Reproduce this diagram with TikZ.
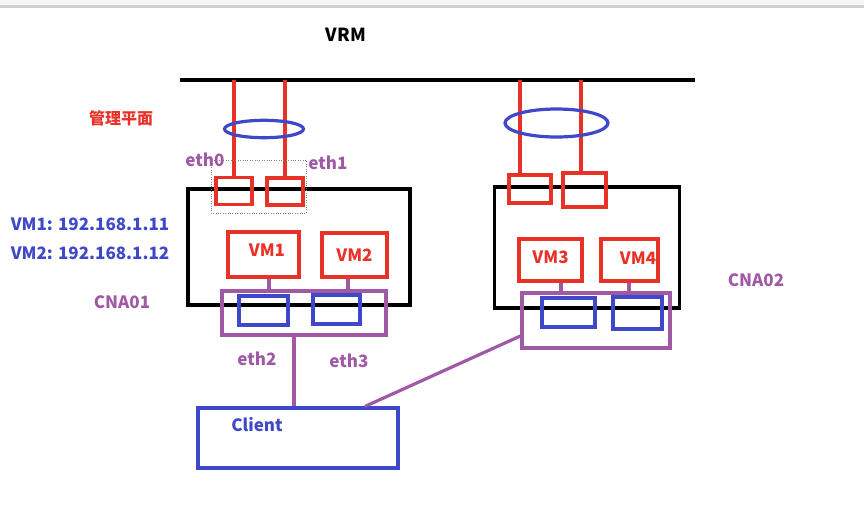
\documentclass[tikz,border=0pt]{standalone}
\usepackage{fontspec}
\setmainfont{Noto Sans CJK SC}
\definecolor{netred}{RGB}{232,50,40}
\definecolor{netblue}{RGB}{62,72,200}
\definecolor{netpurple}{RGB}{160,90,165}
\tikzset{
  hostbox/.style={draw,line width=3.8pt,inner sep=0pt},
  portbox/.style={draw=netred,line width=3.2pt,inner sep=0pt},
  nicbox/.style={draw=netblue,line width=3.2pt,inner sep=0pt},
  swbox/.style={draw=netpurple,line width=3.2pt,inner sep=0pt},
  vmlabel/.style={text=netred},
  ethlabel/.style={text=netpurple}
}
\begin{document}
\begin{tikzpicture}[x=1pt,y=-1pt,font=\fontsize{17}{20}\selectfont\bfseries]
        \useasboundingbox (0,0) rectangle (864,507);
        % screenshot strip
        \fill[gray!8](0,0) rectangle (864,5);
        \fill[gray!35](0,5) rectangle (864,8);

        \node[font=\fontsize{18}{20}\selectfont\bfseries] (vrm) at (346,35) {VRM};
        \coordinate (busL) at (180,80);
        \coordinate (busR) at (695,80);
        \draw[line width=3.5pt] (busL) -- (busR);

        % hosts
        \node[hostbox,minimum width=222,minimum height=116] (cna1) at (299,247) {};
        \node[hostbox,minimum width=185,minimum height=121] (cna2) at (587,247.5) {};

        % management ports
        \node[portbox,minimum width=36,minimum height=27] (p0) at (234,191) {};
        \node[portbox,minimum width=36,minimum height=27] (p1) at (285,191.5) {};
        \node[portbox,minimum width=42,minimum height=28] (p2) at (530,189) {};
        \node[portbox,minimum width=43,minimum height=34] (p3) at (584.5,190) {};
        \coordinate (busP2) at (520,80);
        \coordinate (busP3) at (581,80);
        \draw[netred,line width=3.2pt] (p0.north) -- (p0.north |- busL);
        \draw[netred,line width=3.2pt] (p1.north) -- (p1.north |- busL);
        \draw[netred,line width=3.2pt] (busP2) -- (busP2 |- p2.north);
        \draw[netred,line width=3.2pt] (busP3) -- (busP3 |- p3.north);
        \draw[netblue,line width=3.2pt] (264,129) ellipse [x radius=39.5,y radius=8.7];
        \draw[netblue,line width=3.2pt] (556.5,123) ellipse [x radius=51.5,y radius=14];
        \draw[gray,dotted,thin] (211,160) rectangle (306,213);

        % virtual machines
        \node[portbox,minimum width=71,minimum height=45,label={[vmlabel,xshift=3.5pt,yshift=4pt]center:VM1}] (vm1) at (263.5,254.5) {};
        \node[portbox,minimum width=65,minimum height=44,label={[vmlabel,yshift=-0.5pt]center:VM2}] (vm2) at (354.5,255) {};
        \node[portbox,minimum width=63,minimum height=42,label={[vmlabel,yshift=2.5pt]center:VM3}] (vm3) at (550.5,260) {};
        \node[portbox,minimum width=57,minimum height=42,label={[vmlabel,xshift=8.5pt,yshift=1.5pt]center:VM4}] (vm4) at (629.5,260) {};

        % virtual switches
        \node[swbox,minimum width=164,minimum height=44] (sw1) at (304,313) {};
        \node[swbox,minimum width=148,minimum height=55] (sw2) at (596,320.5) {};
        \node[nicbox,minimum width=49,minimum height=29] (n1) at (263.5,310.5) {};
        \node[nicbox,minimum width=47,minimum height=29] (n2) at (336.5,309.5) {};
        \node[nicbox,minimum width=53,minimum height=29] (n3) at (568.5,312.5) {};
        \node[nicbox,minimum width=49,minimum height=32] (n4) at (637.5,313) {};
        \draw[netpurple,line width=3.2pt] ([xshift=5.5pt]vm1.south) -- ([xshift=5.5pt]vm1.south |- sw1.north);
        \draw[netpurple,line width=3.2pt] ([xshift=-6.5pt]vm2.south) -- ([xshift=-6.5pt]vm2.south |- sw1.north);
        \draw[netpurple,line width=3.2pt] ([xshift=10.5pt]vm3.south) -- ([xshift=10.5pt]vm3.south |- sw2.north);
        \draw[netpurple,line width=3.2pt] ([xshift=-0.5pt]vm4.south) -- ([xshift=-0.5pt]vm4.south |- sw2.north);

        % client
        \node[nicbox,minimum width=200,minimum height=60,label={[text=netblue,xshift=-41pt,yshift=13pt]center:Client}] (client) at (298,438) {};
        \draw[netpurple,line width=3.2pt] ([xshift=-10pt]sw1.south) -- ([xshift=-10pt]sw1.south |- client.north);
        \draw[netpurple,line width=3.2pt] ([yshift=-15.5pt]sw2.west) -- ([xshift=67pt]client.north);

        % labels
        \node[text=netred,font=\fontsize{16}{18}\selectfont\bfseries] (mgmt) at (121,118) {管理平面};
        \node[ethlabel] (eth0) at (205,160) {eth0};
        \node[ethlabel] (eth1) at (328,163) {eth1};
        \node[ethlabel] (eth2) at (257,359) {eth2};
        \node[ethlabel] (eth3) at (349,361) {eth3};
        \node[ethlabel] (cnaA) at (122,302) {CNA01};
        \node[ethlabel] (cnaB) at (756,280) {CNA02};
        \node[text=netblue] (ip1) at (90,224) {VM1: 192.168.1.11};
        \node[text=netblue] (ip2) at (90,253) {VM2: 192.168.1.12};
    \end{tikzpicture}
\end{document}
